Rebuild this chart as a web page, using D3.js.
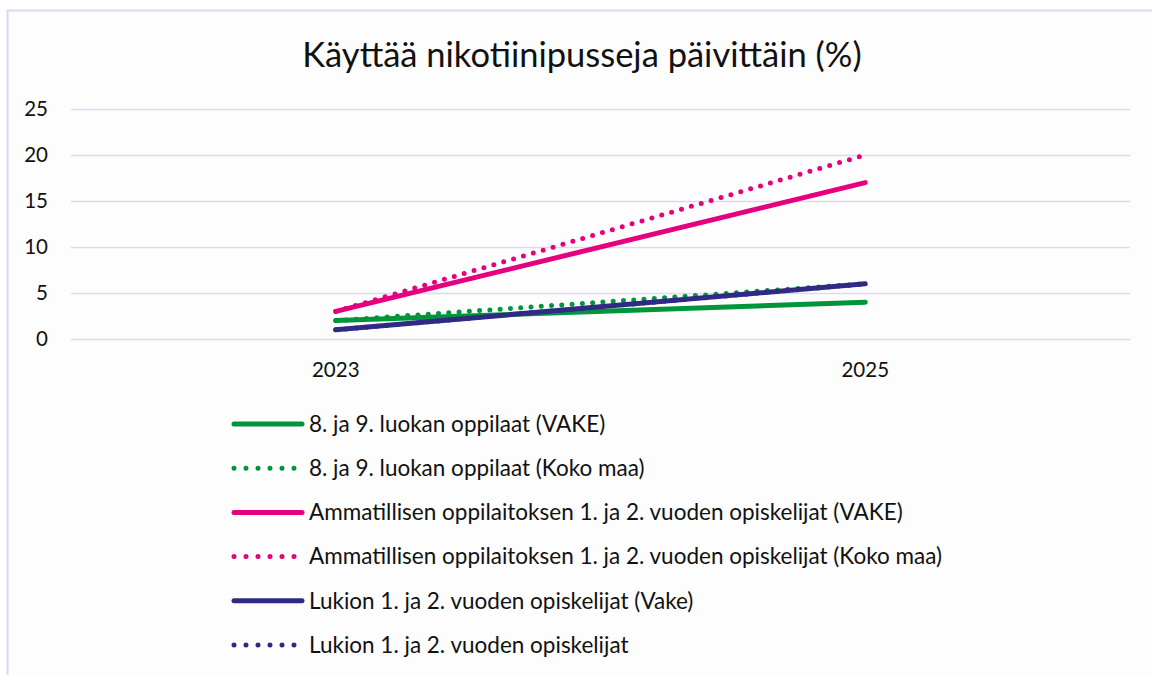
<!DOCTYPE html>
<html>
<head>
    <meta charset="utf-8">
    <script type="text/javascript" src="https://d3js.org/d3.v7.min.js"></script>
    <style>
        body {
            margin: 0;
            padding: 0;
            background: #ffffff;
        }
        .chart-text {
            font-family: Lato, "Open Sans", sans-serif;
            fill: #111111;
        }
        .grid line {
            stroke: #dcdaf0;
            stroke-width: 1.5;
        }
    </style>
</head>
<body>
    <div id="chart"></div>
<script>
    // values
    var years = ["2023", "2025"];
    var yTicks = [0, 5, 10, 15, 20, 25];
    var seriesNames = [
        "8. ja 9. luokan oppilaat (VAKE)",
        "8. ja 9. luokan oppilaat (Koko maa)",
        "Ammatillisen oppilaitoksen 1. ja 2. vuoden opiskelijat (VAKE)",
        "Ammatillisen oppilaitoksen 1. ja 2. vuoden opiskelijat (Koko maa)",
        "Lukion 1. ja 2. vuoden opiskelijat (Vake)",
        "Lukion 1. ja 2. vuoden opiskelijat"
    ];
    var greenVake = [2, 4];
    var greenKoko = [2, 6];
    var pinkVake = [3, 17];
    var pinkKoko = [3, 20];
    var navyVake = [1, 6];
    var navyKoko = [1, 6];

    var seriesValues = [greenVake, greenKoko, pinkVake, pinkKoko, navyVake, navyKoko];
    var seriesColors = ["#00953b", "#00953b", "#e6007e", "#e6007e", "#2f2a85", "#2f2a85"];
    var seriesDotted = [false, true, false, true, false, true];

    var width = 1152, height = 675;

    var svg = d3.select("#chart")
        .append("svg")
        .attr("width", width)
        .attr("height", height);

    // chart background and border (cut off at right and bottom)
    svg.append("rect")
        .attr("x", 7.5).attr("y", 10.5)
        .attr("width", width + 10).attr("height", height + 10)
        .attr("fill", "#fdfdfd")
        .attr("stroke", "#dad8f2")
        .attr("stroke-width", 2);

    svg.append("text")
        .attr("class", "chart-text")
        .attr("x", 582).attr("y", 67)
        .attr("text-anchor", "middle")
        .style("font-size", "34.5px")
        .text("Käyttää nikotiinipusseja päivittäin (%)");

    var plotLeft = 71, plotRight = 1130, plotTop = 109, plotBottom = 339;

    var x = d3.scalePoint()
        .domain(years)
        .range([plotLeft, plotRight])
        .padding(0.5);

    var y = d3.scaleLinear()
        .domain([0, 25])
        .range([plotBottom, plotTop]);

    // gridlines
    svg.append("g")
        .attr("class", "grid")
        .attr("transform", "translate(" + plotLeft + ",0)")
        .call(d3.axisLeft(y).tickValues(yTicks).tickSize(-(plotRight - plotLeft)).tickFormat(""))
        .call(function(g) { g.select(".domain").remove(); });

    // y axis labels
    svg.append("g")
        .selectAll("text")
        .data(yTicks)
        .enter().append("text")
        .attr("class", "chart-text")
        .attr("x", 48)
        .attr("y", function(d) { return y(d); })
        .attr("dy", "0.35em")
        .attr("text-anchor", "end")
        .style("font-size", "20.5px")
        .text(function(d) { return d; });

    // x axis labels
    svg.append("g")
        .selectAll("text")
        .data(years)
        .enter().append("text")
        .attr("class", "chart-text")
        .attr("x", function(d) { return x(d); })
        .attr("y", 377)
        .attr("text-anchor", "middle")
        .style("font-size", "20.5px")
        .text(function(d) { return d; });

    var line = d3.line()
        .x(function(d, i) { return x(years[i]); })
        .y(function(d) { return y(d); });

    svg.append("g")
        .selectAll("path")
        .data(seriesValues)
        .enter().append("path")
        .attr("d", line)
        .attr("fill", "none")
        .attr("stroke", function(d, i) { return seriesColors[i]; })
        .attr("stroke-width", 5)
        .attr("stroke-linecap", "round")
        .attr("stroke-dasharray", function(d, i) { return seriesDotted[i] ? "0 10.3" : null; });

    // legend
    var legend = svg.append("g")
        .selectAll("g")
        .data(seriesNames)
        .enter().append("g")
        .attr("transform", function(d, i) { return "translate(0," + (424 + i * 44.2) + ")"; });

    legend.append("line")
        .attr("x1", 234).attr("x2", 302)
        .attr("y1", 0).attr("y2", 0)
        .attr("stroke", function(d, i) { return seriesColors[i]; })
        .attr("stroke-width", 5)
        .attr("stroke-linecap", "round")
        .attr("stroke-dasharray", function(d, i) { return seriesDotted[i] ? "0 12" : null; });

    legend.append("text")
        .attr("class", "chart-text")
        .attr("x", 309)
        .attr("y", 0)
        .attr("dy", "0.35em")
        .style("font-size", "22.5px")
        .text(function(d) { return d; });
</script>
</body>
</html>
